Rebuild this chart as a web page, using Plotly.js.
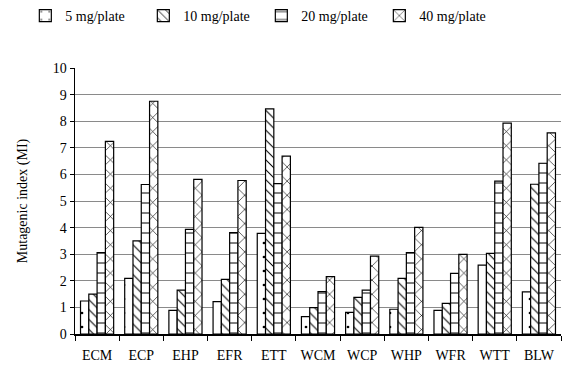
<!DOCTYPE html>
<html><head><meta charset="utf-8">
<script src="https://cdn.plot.ly/plotly-3.0.1.min.js"></script>
<style>html,body{margin:0;padding:0;background:#fff}#chart{width:562px;height:374px}</style>
</head><body><div id="chart"></div>
<script>
const categories = ["ECM","ECP","EHP","EFR","ETT","WCM","WCP","WHP","WFR","WTT","BLW"];
const seriesNames = ["5 mg/plate","10 mg/plate","20 mg/plate","40 mg/plate"];
const mg5  = [1.24,2.09,0.89,1.22,3.78,0.65,0.81,0.93,0.89,2.59,1.58];
const mg10 = [1.50,3.50,1.65,2.05,8.46,0.99,1.38,2.09,1.15,3.03,5.63];
const mg20 = [3.06,5.62,3.93,3.81,5.65,1.59,1.65,3.06,2.28,5.75,6.42];
const mg40 = [7.24,8.75,5.81,5.77,6.69,2.16,2.93,4.01,2.99,7.93,7.56];
const yTicks = [0,1,2,3,4,5,6,7,8,9,10];

const seriesValues = [mg5, mg10, mg20, mg40];
const shapes = [".", "\\", "-", "x"];
const sizes = [14, 7, 10, 10];
const sol = [0.03, 0.15, 0.1, 0.12];
const font = '"Liberation Serif", "Times New Roman", Times, serif';

const traces = seriesValues.map((vals, i) => ({
  type: "bar",
  name: seriesNames[i],
  x: categories,
  y: vals,
  marker: {
    color: "#ffffff",
    line: {color: "#000000", width: 1.2},
    pattern: {shape: shapes[i], fgcolor: "#000000", bgcolor: "#ffffff", size: sizes[i], solidity: sol[i]}
  }
}));

const layout = {
  width: 562, height: 374,
  margin: {l: 75, r: 1, t: 68, b: 40},
  paper_bgcolor: "#fff", plot_bgcolor: "#fff",
  barmode: "group", bargap: 0.25, bargroupgap: 0,
  font: {family: font, size: 14, color: "#000"},
  showlegend: true,
  legend: {
    orientation: "h", xref: "container", yref: "container",
    x: 0.465, xanchor: "center", y: 1.0, yanchor: "top",
    font: {family: font, size: 14, color: "#000"},
    entrywidth: 73, itemwidth: 30, traceorder: "normal"
  },
  xaxis: {
    type: "category",
    showline: true, linecolor: "#000", linewidth: 1.5,
    ticks: "outside", tickson: "boundaries", ticklen: 5, tickcolor: "#000",
    ticklabelstandoff: 8, tickangle: 0,
    showgrid: false,
    tickfont: {family: font, size: 14, color: "#000"}
  },
  yaxis: {
    range: [0, 10],
    tickvals: yTicks, ticktext: yTicks.map(String),
    showline: true, linecolor: "#000", linewidth: 1.5,
    ticks: "outside", ticklen: 4, tickcolor: "#000",
    showgrid: true, gridcolor: "#8a8a8a", gridwidth: 1,
    zeroline: false,
    tickfont: {family: font, size: 14, color: "#000"},
    title: {text: "Mutagenic index (MI)", font: {family: font, size: 14, color: "#000"}, standoff: 22}
  }
};

Plotly.newPlot("chart", traces, layout, {displayModeBar: false, staticPlot: true});
</script></body></html>
